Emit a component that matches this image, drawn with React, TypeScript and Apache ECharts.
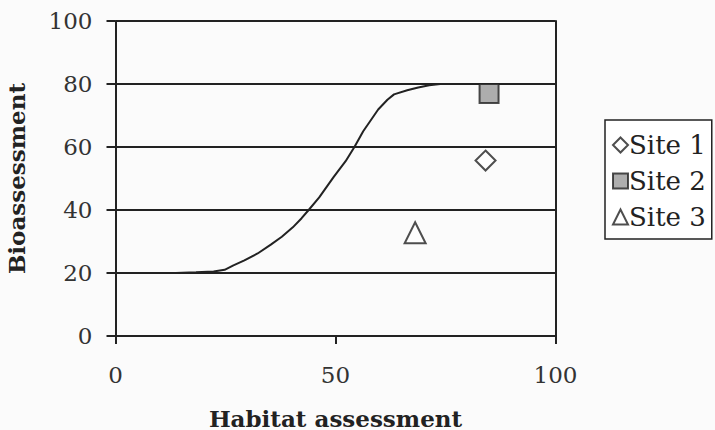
import React, { useEffect, useRef } from "react";
import * as echarts from "echarts";

const curveX = [13.7, 18.3, 22.3, 24.8, 26.8, 29.3, 32.3, 35.3, 37.8, 40.3, 42.3, 43.9, 46.3, 49.6, 52.3, 54.3, 56.3, 59.7, 61.8, 63.3, 66.3, 68.8, 71.3, 73.8];
const curveY = [20, 20.2, 20.5, 21, 22.4, 24, 26.2, 29, 31.5, 34.5, 37.4, 40, 44, 50.5, 55.5, 60, 65, 71.9, 75, 76.7, 78, 78.9, 79.6, 80];

const siteNames = ["Site 1", "Site 2", "Site 3"];
const siteX = [84.1, 84.9, 68.1];
const siteY = [55.7, 77, 32.8];

const xTicks = [0, 50, 100];
const yTicks = [0, 20, 40, 60, 80, 100];

const FONT = "DejaVu Serif";

export default function App() {
  const ref = useRef<HTMLDivElement>(null);
  useEffect(() => {
    if (!ref.current) return;
    const chart = echarts.init(ref.current, undefined, { renderer: "svg" });
    const symbols = ["diamond", "rect", "triangle"];
    const fills = ["#ffffff", "#9a9a9a", "#ffffff"];
    const sizes = [20, 19, 21];
    chart.setOption({
      animation: false,
      backgroundColor: "#fbfbfb",
      grid: { left: 115.5, right: 159.5, top: 21, bottom: 94, containLabel: false, outerBoundsMode: "none" },
      xAxis: {
        type: "value",
        min: xTicks[0],
        max: xTicks[xTicks.length - 1],
        interval: 50,
        name: "Habitat assessment",
        nameLocation: "middle",
        nameGap: 71,
        nameTextStyle: { fontFamily: FONT, fontWeight: "bold", fontSize: 23, lineHeight: 22, color: "#222" },
        axisLine: { show: true, onZero: false, lineStyle: { color: "#222", width: 2 } },
        axisTick: { show: true, inside: false, length: 8, lineStyle: { color: "#222", width: 2 } },
        axisLabel: { fontFamily: FONT, fontSize: 23, color: "#333", margin: 27 },
        splitLine: { show: false },
      },
      yAxis: [
        {
          type: "value",
          min: yTicks[0],
          max: yTicks[yTicks.length - 1],
          interval: 20,
          name: "Bioassessment",
          nameLocation: "middle",
          nameGap: 88,
          nameTextStyle: { fontFamily: FONT, fontWeight: "bold", fontSize: 23, color: "#222" },
          axisLine: { show: true, lineStyle: { color: "#222", width: 2 } },
          axisTick: { show: true, inside: false, length: 9, lineStyle: { color: "#222", width: 2 } },
          axisLabel: { fontFamily: FONT, fontSize: 23, color: "#333", margin: 23 },
          splitLine: { show: true, lineStyle: { color: "#222", width: 2 } },
        },
        {
          type: "value",
          min: 0,
          max: 100,
          interval: 20,
          position: "right",
          axisLine: { show: true, lineStyle: { color: "#222", width: 2 } },
          axisTick: { show: false },
          axisLabel: { show: false },
          splitLine: { show: false },
        },
      ],
      legend: {
        data: siteNames,
        orient: "vertical",
        left: 605,
        top: 120,
        padding: [12, 6, 9, 7],
        itemGap: 10,
        itemWidth: 15,
        itemHeight: 15,
        borderColor: "#222",
        borderWidth: 1.5,
        backgroundColor: "#ffffff",
        textStyle: { fontFamily: FONT, fontSize: 26, color: "#222", padding: [0, 0, 0, -4] },
      },
      series: [
        {
          type: "line",
          data: curveX.map((x, i) => [x, curveY[i]]),
          showSymbol: false,
          symbol: "none",
          lineStyle: { color: "#222", width: 2 },
          silent: true,
          z: 3,
        },
        ...siteNames.map((name, i) => ({
          name,
          type: "scatter",
          data: [[siteX[i], siteY[i]]],
          symbol: symbols[i],
          symbolSize: sizes[i],
          itemStyle: { color: fills[i], borderColor: "#222", borderWidth: 2 },
          z: 5,
        })),
      ],
    });
    return () => chart.dispose();
  }, []);
  return <div ref={ref} style={{ position: "fixed", left: 0, top: 0, width: 715, height: 430 }} />;
}
